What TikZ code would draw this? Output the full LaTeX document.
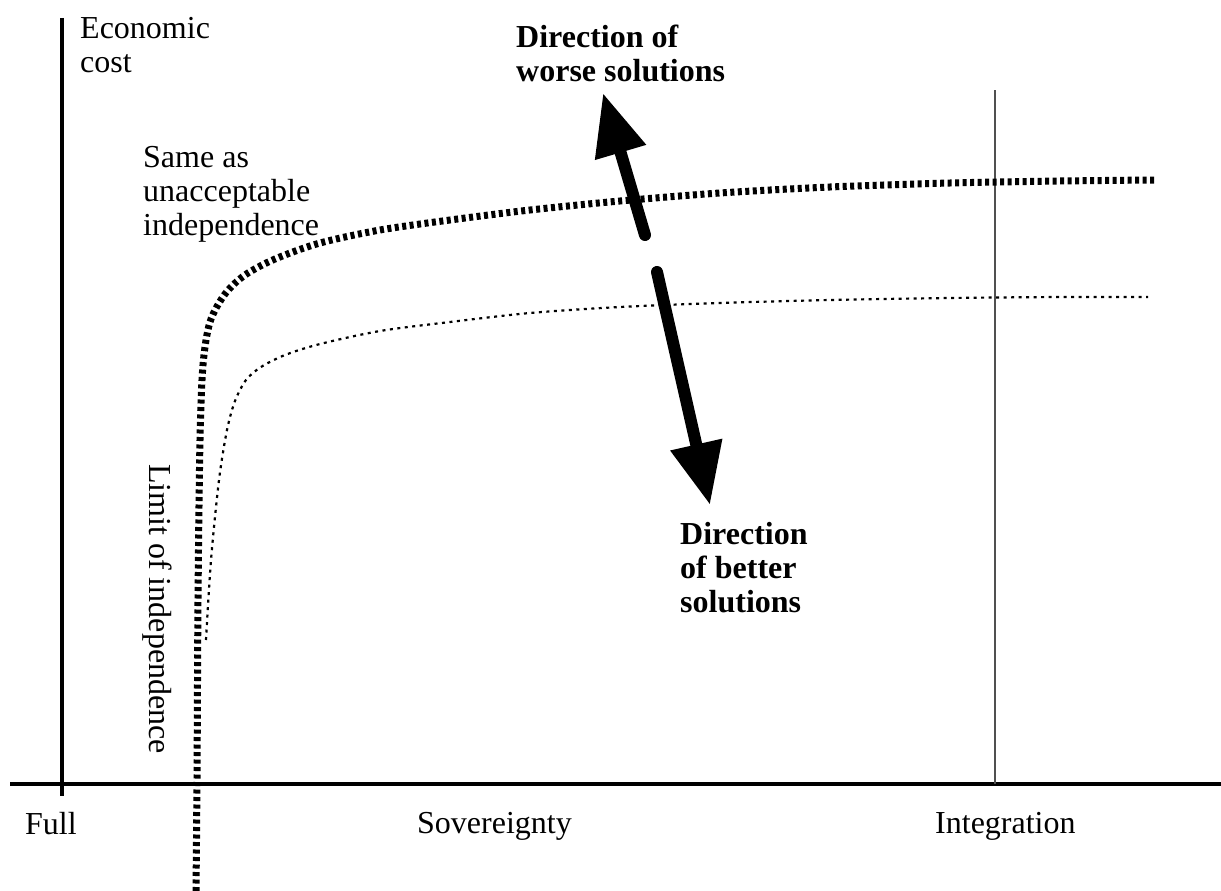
\documentclass[tikz,border=0pt]{standalone}
\usepackage{fontspec}
\setmainfont{Liberation Serif}
\usepackage{tikz}
\usetikzlibrary{arrows.meta}
\definecolor{limgray}{HTML}{505050}
\tikzset{
  lbl/.style={inner sep=0pt,align=left,anchor=north west,font=\fontsize{32}{34}\selectfont},
  lblbf/.style={lbl,font=\fontsize{32}{34}\selectfont\bfseries},
  axisline/.style={line width=4pt},
  thickdot/.style={line width=7pt,dash pattern=on 4pt off 3.5pt},
  thindot/.style={line width=2.2pt,dash pattern=on 3pt off 4.5pt},
  bigarrow/.style={line width=12pt,line cap=round,-{Triangle[length=62pt,width=50pt]}}
}

\begin{document}
\begin{tikzpicture}[x=1pt,y=-1pt]
\useasboundingbox (0,0) rectangle (1221,891);

% axes
\coordinate (ytop) at (62,18);
\coordinate (ybot) at (62,796);
\coordinate (xl) at (10,784);
\coordinate (xr) at (1221,784);
\draw[axisline] (ytop) -- (ybot);
\draw[axisline,line width=3.5pt] (xl) -- (xr);

% integration limit
\coordinate (itop) at (995,90);
\coordinate (ibot) at (995,784);
\draw[limgray,line width=2pt] (itop) -- (ibot);

% curves
\draw[thickdot] plot[smooth] coordinates {(196,891) (197,780) (198,600) (200,440) (203,365)
  (210,322) (225,294) (245,275) (275,259) (320,243) (380,230) (450,220) (530,210)
  (620,201) (720,193) (830,187) (950,183) (1060,181) (1155,180)};
\draw[thindot] plot[smooth] coordinates {(206,640) (211,560) (219,480) (227,430) (235,401)
  (246,380) (261,367) (285,355) (320,344) (380,331) (450,322) (530,313) (620,307)
  (720,303) (830,300) (950,298) (1060,297) (1148,297)};

% directions
\coordinate (wtail) at (645,235);
\coordinate (wtip) at (603,93);
\coordinate (btail) at (657,272);
\coordinate (btip) at (710,505);
\draw[bigarrow] (wtail) -- (wtip);
\draw[bigarrow] (btail) -- (btip);

% labels
\node[lbl] (econ) at (80,17) {Economic\\cost};
\node[lbl] (same) at (143,146) {Same as\\unacceptable\\independence};
\node[lblbf] (worse) at (516,25) {Direction of\\worse solutions};
\node[lblbf] (better) at (680,522) {Direction\\of better\\solutions};
\node[lbl] (full) at (25,812) {Full};
\node[lbl] (sov) at (417,812) {Sovereignty};
\node[lbl] (integ) at (935,812) {Integration};
\node[lbl,anchor=west,rotate=-90] (limit) at (157,464) {Limit of independence};
\end{tikzpicture}
\end{document}
